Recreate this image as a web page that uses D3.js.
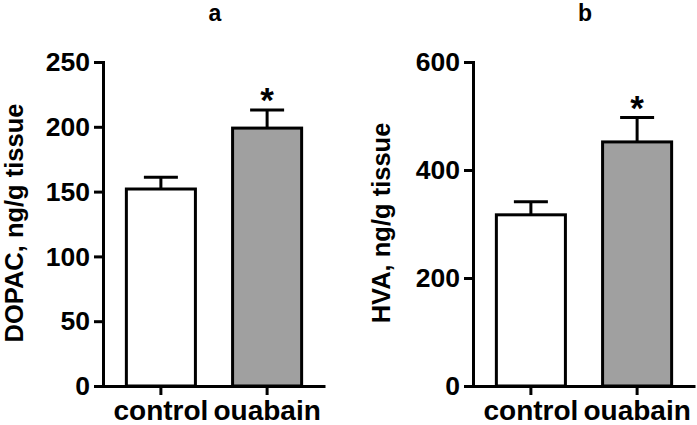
<!DOCTYPE html>
<html>
<head>
<meta charset="utf-8">
<script src="https://cdn.jsdelivr.net/npm/d3@7"></script>
<style>
  body { margin: 0; background: #fff; }
  text { font-family: "Liberation Sans", Arial, sans-serif; font-weight: bold; fill: #000; }
</style>
</head>
<body>
<script>
// data
var groups = ["control", "ouabain"];
var dopacMean = [152, 199];
var dopacErr = [9, 14];
var hvaMean = [317, 452];
var hvaErr = [24, 45];
var dopacTicks = [0, 50, 100, 150, 200, 250];
var hvaTicks = [0, 200, 400, 600];
var barFills = ["#ffffff", "#a0a0a0"];

var w = 697, h = 425;
var svg = d3.select("body").append("svg").attr("width", w).attr("height", h);
svg.append("rect").attr("width", w).attr("height", h).attr("fill", "#fff");

function drawPanel(opt) {
  var g = svg.append("g");

  var y = d3.scaleLinear().domain([0, opt.max]).range([386, 62]);
  var x = d3.scaleBand().domain(groups).range([opt.left, opt.left + 222])
    .paddingInner(0.35).paddingOuter(0.22);

  // error whiskers (upper only)
  var capW = 34;
  g.selectAll("line.err").data(groups).enter().append("line")
    .attr("x1", function (d) { return x(d) + x.bandwidth() / 2; })
    .attr("x2", function (d) { return x(d) + x.bandwidth() / 2; })
    .attr("y1", function (d, i) { return y(opt.mean[i]); })
    .attr("y2", function (d, i) { return y(opt.mean[i] + opt.err[i]); })
    .attr("stroke", "#000").attr("stroke-width", 3);
  g.selectAll("line.cap").data(groups).enter().append("line")
    .attr("x1", function (d) { return x(d) + x.bandwidth() / 2 - capW / 2; })
    .attr("x2", function (d) { return x(d) + x.bandwidth() / 2 + capW / 2; })
    .attr("y1", function (d, i) { return y(opt.mean[i] + opt.err[i]); })
    .attr("y2", function (d, i) { return y(opt.mean[i] + opt.err[i]); })
    .attr("stroke", "#000").attr("stroke-width", 3);

  // bars
  g.selectAll("rect.bar").data(groups).enter().append("rect")
    .attr("class", "bar")
    .attr("x", function (d) { return x(d); })
    .attr("width", x.bandwidth())
    .attr("y", function (d, i) { return y(opt.mean[i]); })
    .attr("height", function (d, i) { return y(0) - y(opt.mean[i]); })
    .attr("fill", function (d, i) { return barFills[i]; })
    .attr("stroke", "#000").attr("stroke-width", 3);

  // significance star over ouabain
  var i1 = 1;
  g.append("text")
    .attr("x", x(groups[i1]) + x.bandwidth() / 2)
    .attr("y", y(opt.mean[i1] + opt.err[i1]) + 2)
    .attr("text-anchor", "middle")
    .style("font-size", "35px")
    .text("*");

  // y axis
  var yAxis = g.append("g")
    .attr("transform", "translate(" + opt.left + ",0)")
    .call(d3.axisLeft(y).tickValues(opt.ticks).tickSizeInner(9).tickSizeOuter(0));
  yAxis.attr("font-family", null).attr("font-size", null);
  yAxis.select(".domain").attr("stroke-width", 3).attr("stroke-linecap", "square");
  yAxis.selectAll(".tick line").attr("stroke-width", 3);
  yAxis.selectAll(".tick text")
    .attr("x", -13).attr("dy", "0.33em")
    .style("font-size", "26.5px");

  // x axis
  var xAxis = g.append("g")
    .attr("transform", "translate(0,386)")
    .call(d3.axisBottom(x).tickSizeInner(9).tickSizeOuter(0));
  xAxis.attr("font-family", null).attr("font-size", null);
  xAxis.select(".domain").attr("stroke-width", 3);
  xAxis.selectAll(".tick text")
    .attr("y", 34).attr("dy", 0)
    .style("font-size", "28px");
  xAxis.selectAll(".tick line").attr("stroke-width", 3);

  // y axis title
  g.append("text")
    .attr("transform", "translate(" + opt.labelX + ",223) rotate(-90)")
    .attr("text-anchor", "middle")
    .style("font-size", "25.5px")
    .text(opt.label);

  // panel letter
  g.append("text")
    .attr("x", opt.titleX)
    .attr("y", 21)
    .attr("text-anchor", "middle")
    .style("font-size", "23px")
    .text(opt.title);
}

drawPanel({ left: 103, max: 250, ticks: dopacTicks, mean: dopacMean, err: dopacErr,
  label: "DOPAC, ng/g tissue", labelX: 23, title: "a", titleX: 215 });
drawPanel({ left: 473, max: 600, ticks: hvaTicks, mean: hvaMean, err: hvaErr,
  label: "HVA, ng/g tissue", labelX: 390, title: "b", titleX: 585 });
</script>
</body>
</html>
